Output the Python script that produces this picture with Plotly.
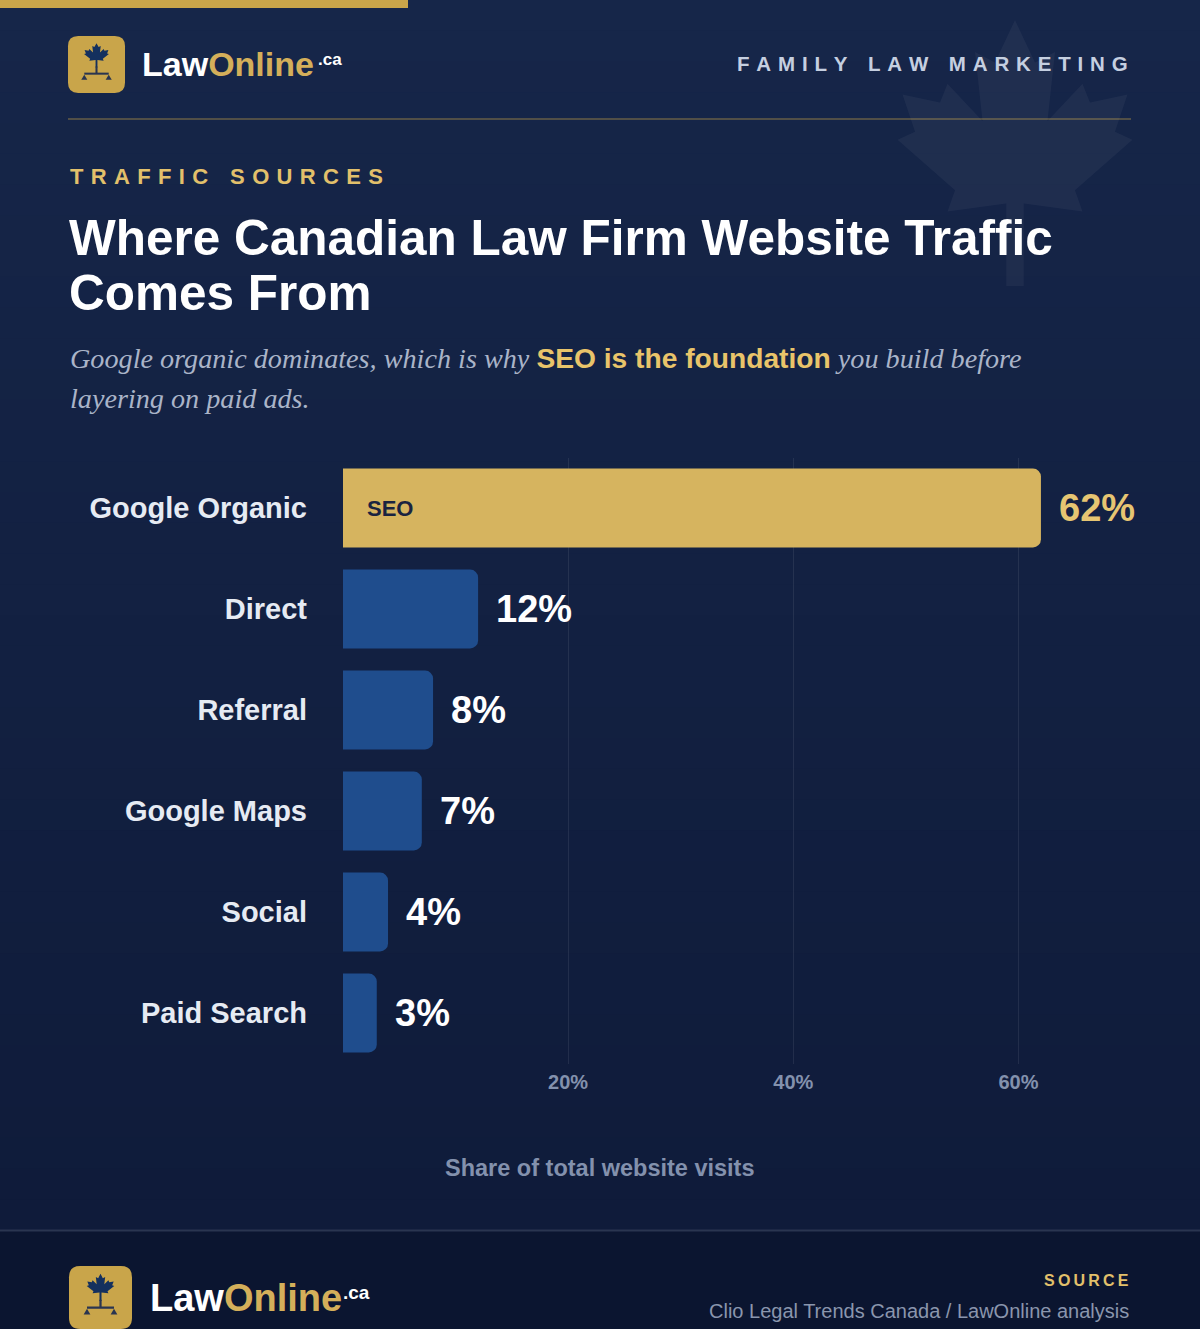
import plotly.graph_objects as go

# ---- data ----
categories = ["Google Organic", "Direct", "Referral", "Google Maps", "Social", "Paid Search"]
shares = [62, 12, 8, 7, 4, 3]
value_labels = ["62%", "12%", "8%", "7%", "4%", "3%"]
tick_values = [20, 40, 60]
tick_labels = ["20%", "40%", "60%"]

W, H = 1200, 1329
def px(x): return x / W
def py(y): return 1 - y / H

GOLD = "#c9a54a"
GOLD_LIGHT = "#e6c572"

def hexmix(c1, c2, t):
    a = [int(c1[i:i+2], 16) for i in (1, 3, 5)]
    b = [int(c2[i:i+2], 16) for i in (1, 3, 5)]
    return "#" + "".join(f"{round(a[i] + (b[i]-a[i]) * t):02x}" for i in range(3))

shapes = []
# background gradient bands
top_c, bot_c = "#162649", "#0f1b3a"
n = 40
for i in range(n):
    y0 = 1230 * i / n
    y1 = 1230 * (i + 1) / n + 1
    shapes.append(dict(type="rect", xref="paper", yref="paper", x0=0, x1=1,
                       y0=py(y1), y1=py(y0), fillcolor=hexmix(top_c, bot_c, i / (n - 1)),
                       line=dict(width=0), layer="below"))
# footer
shapes.append(dict(type="rect", xref="paper", yref="paper", x0=0, x1=1, y0=0, y1=py(1230),
                   fillcolor="#0b1530", line=dict(width=0), layer="below"))
shapes.append(dict(type="line", xref="paper", yref="paper", x0=0, x1=1, y0=py(1230.5), y1=py(1230.5),
                   line=dict(color="#2a3550", width=2), layer="below"))
# top gold bar
shapes.append(dict(type="rect", xref="paper", yref="paper", x0=0, x1=px(408), y0=py(8), y1=1,
                   fillcolor=GOLD, line=dict(width=0), layer="below"))
# divider
shapes.append(dict(type="line", xref="paper", yref="paper", x0=px(68), x1=px(1131), y0=py(119), y1=py(119),
                   line=dict(color="rgba(201,165,74,0.45)", width=1.5), layer="below"))

LEAF = [(0, -0.5), (0.08, -0.34), (0.16, -0.38), (0.13, -0.12), (0.27, -0.26), (0.30, -0.19),
        (0.45, -0.22), (0.40, -0.08), (0.47, -0.05), (0.24, 0.14), (0.27, 0.22), (0.035, 0.19),
        (0.035, 0.5), (-0.035, 0.5), (-0.035, 0.19), (-0.27, 0.22), (-0.24, 0.14), (-0.47, -0.05),
        (-0.40, -0.08), (-0.45, -0.22), (-0.30, -0.19), (-0.27, -0.26), (-0.13, -0.12),
        (-0.16, -0.38), (-0.08, -0.34)]

def leaf_path(cx, cy, w, h):
    pts = [(px(cx + x * w), py(cy + y * h)) for x, y in LEAF]
    return "M " + " L ".join(f"{a:.5f},{b:.5f}" for a, b in pts) + " Z"

def rrect_path(x0, y0, x1, y1, r):
    s = f"M {px(x0+r):.5f},{py(y0):.5f} L {px(x1-r):.5f},{py(y0):.5f} "
    s += f"Q {px(x1):.5f},{py(y0):.5f} {px(x1):.5f},{py(y0+r):.5f} "
    s += f"L {px(x1):.5f},{py(y1-r):.5f} Q {px(x1):.5f},{py(y1):.5f} {px(x1-r):.5f},{py(y1):.5f} "
    s += f"L {px(x0+r):.5f},{py(y1):.5f} Q {px(x0):.5f},{py(y1):.5f} {px(x0):.5f},{py(y1-r):.5f} "
    s += f"L {px(x0):.5f},{py(y0+r):.5f} Q {px(x0):.5f},{py(y0):.5f} {px(x0+r):.5f},{py(y0):.5f} Z"
    return s

# big faint background leaf
shapes.append(dict(type="path", xref="paper", yref="paper", path=leaf_path(1015, 153, 250, 266),
                   fillcolor="rgba(255,255,255,0.045)", line=dict(width=0), layer="below"))

def logo(x0, y0, size):
    s = size / 56.0
    out = []
    out.append(dict(type="path", xref="paper", yref="paper", path=rrect_path(x0, y0, x0 + size, y0 + size, 10 * s),
                    fillcolor=GOLD, line=dict(width=0), layer="below"))
    cx = x0 + size / 2
    out.append(dict(type="path", xref="paper", yref="paper",
                    path=leaf_path(cx, y0 + 19 * s, 26 * s, 24 * s),
                    fillcolor="#14305e", line=dict(width=0), layer="below"))
    out.append(dict(type="line", xref="paper", yref="paper", x0=px(cx), x1=px(cx),
                    y0=py(y0 + 30 * s), y1=py(y0 + 37 * s), line=dict(color="#2a3550", width=2 * s), layer="below"))
    out.append(dict(type="line", xref="paper", yref="paper", x0=px(cx - 12 * s), x1=px(cx + 12 * s),
                    y0=py(y0 + 37 * s), y1=py(y0 + 37 * s), line=dict(color="#2a3550", width=2 * s), layer="below"))
    for dx in (-12, 12):
        tx = cx + dx * s
        p = (f"M {px(tx):.5f},{py(y0 + 38 * s):.5f} L {px(tx + 3 * s):.5f},{py(y0 + 43 * s):.5f} "
             f"L {px(tx - 3 * s):.5f},{py(y0 + 43 * s):.5f} Z")
        out.append(dict(type="path", xref="paper", yref="paper", path=p,
                        fillcolor="#2a3550", line=dict(width=0), layer="below"))
    return out

shapes += logo(68, 36, 57)
shapes += logo(69, 1266, 63)

fig = go.Figure()
fig.add_trace(go.Bar(
    y=categories, x=shares, orientation="h",
    marker=dict(color=["#d6b45f"] + ["#1f4d8d"] * (len(shares) - 1), line=dict(width=0)),
    width=0.78, hoverinfo="skip",
))

SANS = "Liberation Sans, Arial, sans-serif"
SERIF = "Liberation Serif, DejaVu Serif, serif"

ann = []
def A(x, y, text, size, color, xanchor="left", family=SANS, **kw):
    ann.append(dict(xref="paper", yref="paper", x=px(x), y=py(y), text=text, showarrow=False,
                    xanchor=xanchor, yanchor="middle", font=dict(size=size, color=color, family=family), **kw))

def spaced(s, sp="\u2004"):
    return sp.join(list(s)).replace(sp + " " + sp, sp * 3)

# header
A(140, 64, "<b>Law<span style='color:#d4af5a'>Online</span></b>", 34, "#ffffff")
A(316, 59, "<b>.ca</b>", 17, "#ffffff")
A(1130, 64, "<b>" + spaced("FAMILY LAW MARKETING") + "</b>", 20.5, "#c5cfe0", xanchor="right")
A(68, 176, "<b>" + spaced("TRAFFIC SOURCES") + "</b>", 22, "#e2c06b")
A(67, 237, "<b>Where Canadian Law Firm Website Traffic</b>", 49.5, "#ffffff")
A(67, 292, "<b>Comes From</b>", 49.5, "#ffffff")
A(68, 358, "<i>Google organic dominates, which is why </i>"
           "<span style='font-family:Liberation Sans;font-weight:bold;font-style:normal;color:#e9c46a'>SEO is the foundation</span>"
           "<i> you build before</i>", 28.2, "#aab4c8", family=SERIF)
A(68, 398, "<i>layering on paid ads.</i>", 28.2, "#aab4c8", family=SERIF)

# value labels (data coords)
for i, (c, v, lab) in enumerate(zip(categories, shares, value_labels)):
    ann.append(dict(xref="x", yref="y", x=v, y=c, text=f"<b>{lab}</b>", showarrow=False, xanchor="left",
                    xshift=16, yanchor="middle",
                    font=dict(size=38, color=(GOLD_LIGHT if i == 0 else "#ffffff"), family=SANS)))
ann.append(dict(xref="x", yref="y", x=0, y=categories[0], text="<b>SEO</b>", showarrow=False, xanchor="left",
                xshift=22, yanchor="middle", font=dict(size=22, color="#1a2340", family=SANS)))

A(600, 1168, "<b>Share of total website visits</b>", 23.5, "#8391ad", xanchor="center")

# footer text
A(148, 1298, "<b>Law<span style='color:#d4af5a'>Online</span></b>", 38, "#ffffff")
A(341, 1292, "<b>.ca</b>", 19, "#ffffff")
A(1131, 1280, "<b>" + spaced("SOURCE", "\u2009") + "</b>", 16, "#e2c06b", xanchor="right")
A(1131, 1311, "Clio Legal Trends Canada / LawOnline analysis", 20, "#8a96ad", xanchor="right")

fig.update_layout(
    width=W, height=H, margin=dict(l=0, r=0, t=0, b=0),
    paper_bgcolor="#13223f", plot_bgcolor="rgba(0,0,0,0)",
    showlegend=False, shapes=shapes, annotations=ann,
    barcornerradius=8,
    xaxis=dict(domain=[px(343), px(1131)], range=[0, 70], tickvals=tick_values, ticktext=tick_labels,
               showgrid=True, gridcolor="rgba(255,255,255,0.08)", gridwidth=1, zeroline=False,
               showline=False, ticks="", ticklabelstandoff=4,
               tickfont=dict(family=SANS, size=20, color="#8391ad", weight="bold"), fixedrange=True),
    yaxis=dict(domain=[py(1063.5), py(457.5)], autorange="reversed", showgrid=False, zeroline=False,
               showline=False, ticks="", ticklabelstandoff=35,
               tickfont=dict(family=SANS, size=29, color="#e6ebf3", weight="bold"), fixedrange=True),
)

fig.write_html("out.html", config={"displayModeBar": False},
               post_script="document.body.style.margin='0';document.body.style.background='#0b1530';")
